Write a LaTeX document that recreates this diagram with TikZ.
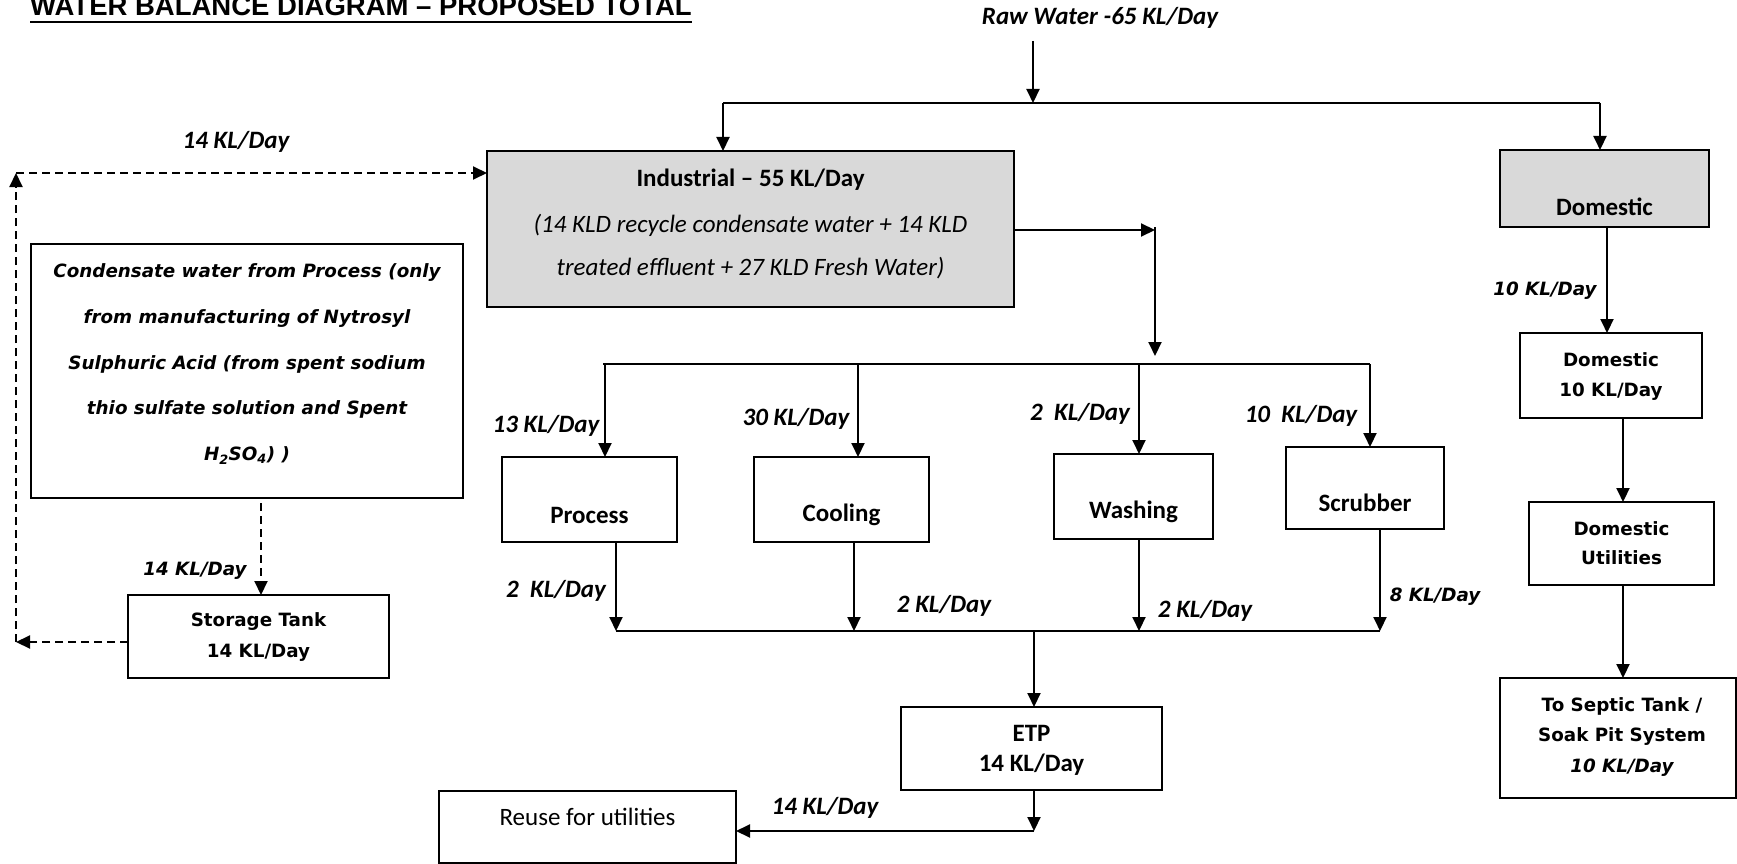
\documentclass[tikz,border=0pt]{standalone}
\usepackage{fontspec}
\setmainfont{Carlito}
\newfontfamily\vfont{DejaVu Sans}
\newfontfamily\afont{Liberation Sans}
\usetikzlibrary{arrows.meta,calc}
\definecolor{boxgray}{RGB}{217,217,217}
\tikzset{
  bx/.style={draw, line width=2.2pt, inner sep=0pt, outer sep=0pt, rectangle},
  graybx/.style={bx, fill=boxgray},
  arr/.style={line width=2pt, -{Triangle[length=14pt,width=13pt]}},
  ln/.style={line width=2pt},
  darr/.style={line width=2pt, dash pattern=on 8pt off 5pt, -{Triangle[length=14pt,width=13pt]}},
  cb/.style={inner sep=0pt, font=\fontsize{25}{30}\selectfont\bfseries},
  ci/.style={inner sep=0pt, font=\fontsize{25}{30}\selectfont\itshape},
  cr/.style={inner sep=0pt, font=\fontsize{25}{30}\selectfont},
  lab/.style={inner sep=0pt, font=\fontsize{25}{30}\selectfont\bfseries\itshape},
  vb/.style={inner sep=0pt, align=center, font=\vfont\fontsize{18.3}{30.5}\selectfont\bfseries},
  vlab/.style={inner sep=0pt, font=\vfont\fontsize{18.3}{30}\selectfont\bfseries\itshape},
}
\begin{document}
\begin{tikzpicture}[x=1pt,y=-1pt]
\useasboundingbox (0,0) rectangle (1737,864);
% title
\node[anchor=base west, inner sep=0pt, font=\afont\bfseries\fontsize{27.5}{30}\selectfont] (title) at (30,16) {WATER BALANCE DIAGRAM – PROPOSED TOTAL};
\draw[line width=2.5pt] ([yshift=-6pt]title.base west) -- ([yshift=-6pt]title.base east);

% boxes
\node[graybx, minimum width=527pt, minimum height=156pt] (industrial) at (750.5,229) {};
\node[graybx, minimum width=209pt, minimum height=77pt] (domestic) at (1604.5,188.5) {};
\node[bx, minimum width=432pt, minimum height=254pt] (condensate) at (247,371) {};
\node[bx, minimum width=261pt, minimum height=83pt] (storage) at (258.5,636.5) {};
\node[bx, minimum width=175pt, minimum height=85pt] (process) at (589.5,499.5) {};
\node[bx, minimum width=175pt, minimum height=85pt] (cooling) at (841.5,499.5) {};
\node[bx, minimum width=159pt, minimum height=85pt] (washing) at (1133.5,496.5) {};
\node[bx, minimum width=158pt, minimum height=82pt] (scrubber) at (1365,488) {};
\node[bx, minimum width=261pt, minimum height=83pt] (etp) at (1031.5,748.5) {};
\node[bx, minimum width=297pt, minimum height=72pt] (reuse) at (587.5,827) {};
\node[bx, minimum width=182pt, minimum height=85pt] (dom10) at (1611,375.5) {};
\node[bx, minimum width=185pt, minimum height=83pt] (domutil) at (1621.5,543.5) {};
\node[bx, minimum width=236pt, minimum height=120pt] (septic) at (1618,738) {};

% box texts
\node[cb] (indT1) at (750.5,180) {Industrial – 55 KL/Day};
\node[ci] (indT2) at (750.5,225) {(14 KLD recycle condensate water + 14 KLD};
\node[ci] (indT3) at (750.5,268) {treated effluent + 27 KLD Fresh Water)};
\node[cb] (domT) at (1604.5,207) {Domestic};
\node[inner sep=0pt, align=center, font=\vfont\fontsize{18.3}{45.7}\selectfont\bfseries\itshape] (condT) at (247,364)
  {Condensate water from Process (only\\from manufacturing of Nytrosyl\\Sulphuric Acid (from spent sodium\\thio sulfate solution and Spent\\H\textsubscript{2}SO\textsubscript{4}) )};
\node[vb] (storT) at (258.5,637) {Storage Tank\\14 KL/Day};
\node[cb] (procT) at (589.5,515) {Process};
\node[cb] (coolT) at (841.5,515) {Cooling};
\node[cb] (washT) at (1133.5,512) {Washing};
\node[cb] (scrbT) at (1365,503) {Scrubber};
\node[cb, align=center, font=\fontsize{25}{30}\selectfont\bfseries] (etpT) at (1031.5,750) {ETP\\14 KL/Day};
\node[cr] (reuseT) at (587.5,817) {Reuse for utilities};
\node[vb] (dom10T) at (1611,376.5) {Domestic\\10 KL/Day};
\node[vb, font=\vfont\fontsize{18.3}{29}\selectfont\bfseries] (domutilT) at (1621.5,543.5) {Domestic\\Utilities};
\node[vb] (septicT) at (1622,737) {To Septic Tank /\\Soak Pit System\\{\itshape 10 KL/Day}};

% labels
\node[lab] (rawL) at (1100,18) {Raw Water -65 KL/Day};
\node[lab] (recL) at (236,142) {14 KL/Day};
\node[vlab] (domL) at (1545,291) {10 KL/Day};
\node[lab] (pL) at (546,426) {13 KL/Day};
\node[lab] (cL) at (796,419) {30 KL/Day};
\node[lab] (wL) at (1080,414) {2\ \ KL/Day};
\node[lab] (sL) at (1301,416) {10\ \ KL/Day};
\node[lab] (pdL) at (556,591) {2\ \ KL/Day};
\node[lab] (cdL) at (944,606) {2 KL/Day};
\node[lab] (wdL) at (1205,611) {2 KL/Day};
\node[vlab] (sdL) at (1435,597) {8 KL/Day};
\node[lab] (eL) at (825,808) {14 KL/Day};
\node[vlab] (stL) at (195,571) {14 KL/Day};

% coordinates
\coordinate (rw) at (1033,41);
\coordinate (sp) at (1033,103);
\coordinate (spL) at (723,103);
\coordinate (spR) at (1600,103);
\coordinate (ie) at (1155,230);
\coordinate (vt) at (1155,227);
\coordinate (vbot) at (1155,356);
\coordinate (bP) at (605,364);
\coordinate (bC) at (858,364);
\coordinate (bW) at (1139,364);
\coordinate (bS) at (1370,364);
\coordinate (dL) at (603,364);
\coordinate (cP) at (616,631);
\coordinate (cC) at (854,631);
\coordinate (cW) at (1139,631);
\coordinate (cS) at (1380,631);
\coordinate (cE) at (1034,631);
\coordinate (eb) at (1034,831);
\coordinate (dA) at (1607,227);
\coordinate (dB) at (1623,418);
\coordinate (dC) at (1623,585);
\coordinate (cbt) at (261,503);
\coordinate (lc) at (16,642);
\coordinate (tc) at (16,173);

% raw water split
\draw[arr] (rw) -- (sp);
\draw[ln] (spL) -- (spR);
\draw[arr] (spL) -- (spL |- industrial.north);
\draw[arr] (spR) -- (spR |- domestic.north);

% domestic chain
\draw[arr] (dA) -- (dA |- dom10.north);
\draw[arr] (dB) -- (dB |- domutil.north);
\draw[arr] (dC) -- (dC |- septic.north);

% industrial to distribution
\draw[arr] (industrial.east |- ie) -- (ie);
\draw[arr] (vt) -- (vbot);
\draw[ln] (dL) -- (bS);
\draw[arr] (bP) -- (bP |- process.north);
\draw[arr] (bC) -- (bC |- cooling.north);
\draw[arr] (bW) -- (bW |- washing.north);
\draw[arr] (bS) -- (bS |- scrubber.north);

% collection
\draw[arr] (cP |- process.south) -- (cP);
\draw[arr] (cC |- cooling.south) -- (cC);
\draw[arr] (cW |- washing.south) -- (cW);
\draw[arr] (cS |- scrubber.south) -- (cS);
\draw[ln] (cP) -- (cS);
\draw[arr] (cE) -- (cE |- etp.north);
\draw[arr] (eb |- etp.south) -- (eb);
\draw[arr] (eb) -- (eb -| reuse.east);

% condensate recycle (dashed)
\draw[darr] (cbt) -- (cbt |- storage.north);
\draw[darr] (lc -| storage.west) -- (lc);
\draw[darr] (lc) -- (tc);
\draw[darr] (tc) -- (tc -| industrial.west);
\end{tikzpicture}
\end{document}
